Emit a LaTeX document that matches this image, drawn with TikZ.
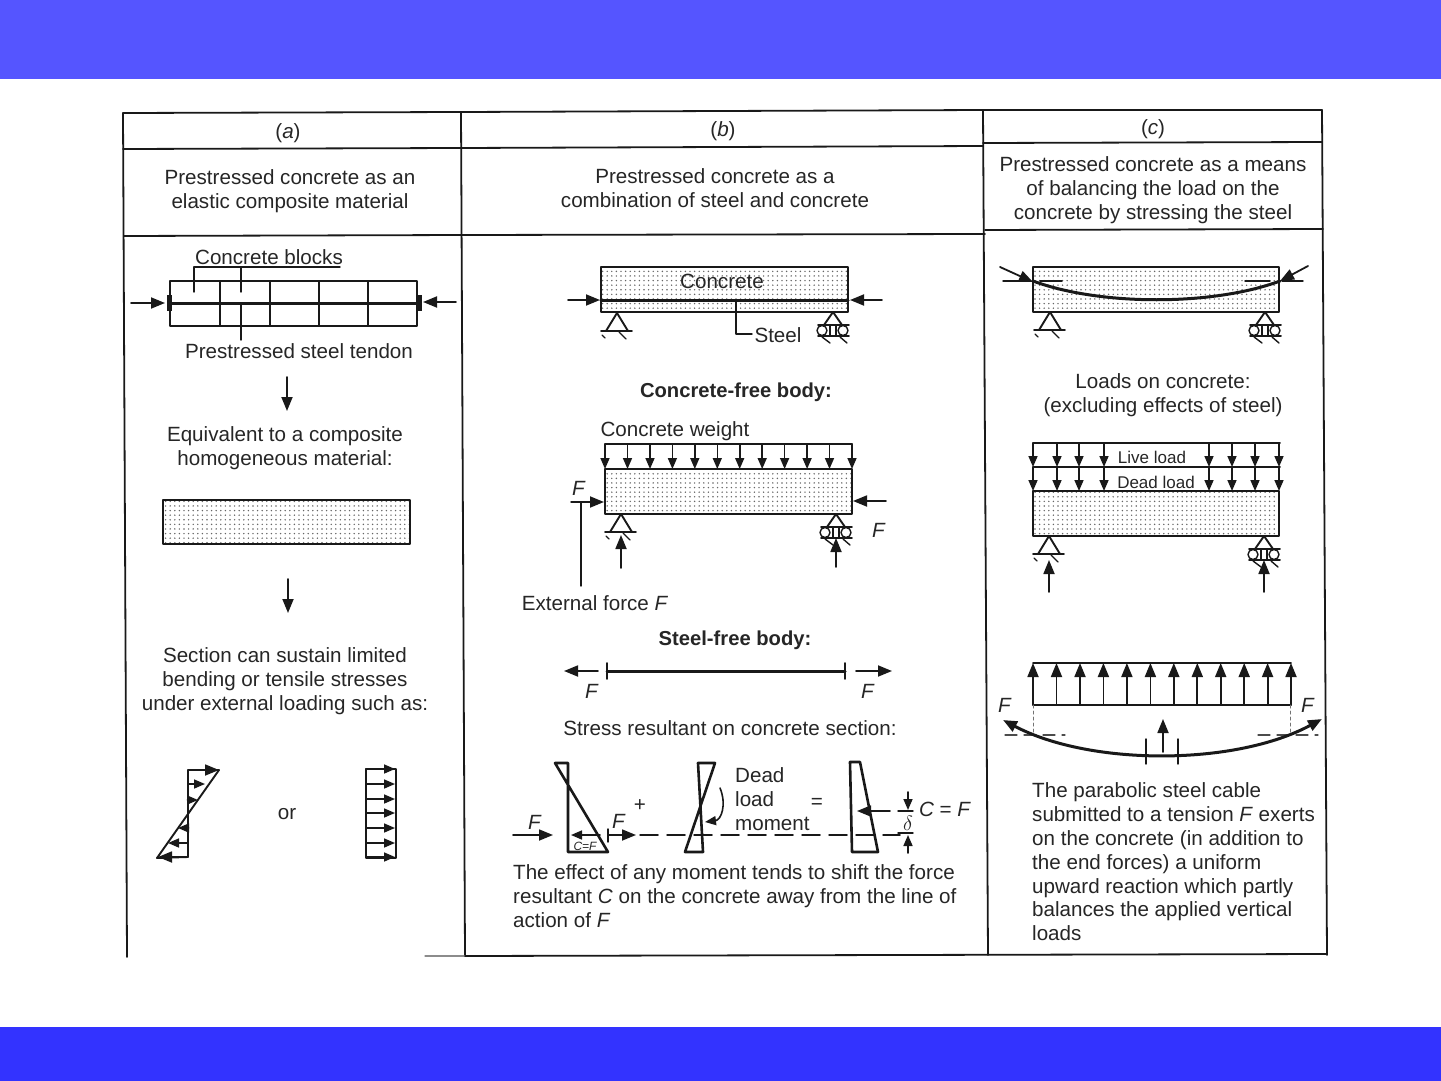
\documentclass[tikz,border=0pt]{standalone}
\usepackage{amsmath}
\usepackage{fontspec}
\setmainfont{Liberation Sans}
\usepackage{tikz}
\usetikzlibrary{arrows.meta}
\usetikzlibrary{patterns}
\definecolor{bannertop}{RGB}{85,85,255}
\definecolor{bannerbot}{RGB}{51,51,255}
\definecolor{inkline}{RGB}{25,25,25}
\pgfdeclarepatternformonly{stipple}{\pgfqpoint{-1pt}{-1pt}}{\pgfqpoint{1pt}{1pt}}{\pgfqpoint{4.6pt}{4.6pt}}{\pgfpathcircle{\pgfpointorigin}{0.8pt}\pgfusepath{fill}}
\tikzset{
lbl/.style={inner sep=0pt,text=black!85,font=\fontsize{20.6}{23.8}\selectfont,align=center},
lblbold/.style={lbl,font=\bfseries\fontsize{20.2}{23.8}\selectfont},
lblleft/.style={lbl,align=left,anchor=west},
lblsmall/.style={inner sep=0pt,text=black!85,font=\fontsize{17}{20}\selectfont},
tableline/.style={line width=1.8pt,draw=inkline},
boxline/.style={line width=1.9pt,draw=inkline},
concrete/.style={line width=1.9pt,draw=inkline,pattern=stipple,pattern color=black!60},
force/.style={line width=1.8pt,draw=inkline,-{Triangle[length=14pt,width=11pt]}},
smallforce/.style={line width=1.6pt,draw=inkline,-{Triangle[length=11pt,width=9pt]}},
heavy/.style={line width=3pt,draw=inkline},
thinline/.style={line width=1.4pt,draw=inkline},
stressline/.style={line width=2.6pt,draw=inkline},
axisdash/.style={line width=1.5pt,draw=inkline,dash pattern=on 18pt off 9pt}
}
\newcommand{\pinsup}[2]{
\draw [boxline] (#1,#2) -- (#1-11,#2+18) -- (#1+11,#2+18) -- cycle;
\draw [boxline] (#1-16,#2+18) -- (#1+15,#2+18);
\draw [thinline] (#1-15,#2+22) -- (#1-12,#2+25);
\draw [thinline] (#1+2,#2+19) -- (#1+9,#2+26);
}
\newcommand{\rollsup}[2]{
\draw [boxline] (#1,#2) -- (#1-9,#2+13) -- (#1+9,#2+13) -- cycle;
\draw [boxline] (#1-15,#2+13) -- (#1+16,#2+13);
\draw [boxline] (#1-15,#2+24) -- (#1+16,#2+24);
\draw [thinline] (#1-11,#2+18.5) circle (5);
\draw [thinline] (#1+10,#2+18.5) circle (5);
\draw [thinline] (#1-3,#2+13) -- (#1-3,#2+24);
\draw [thinline] (#1+3,#2+13) -- (#1+3,#2+24);
\draw [thinline] (#1-11,#2+25) -- (#1-3,#2+31);
\draw [thinline] (#1+7,#2+25) -- (#1+14,#2+31);
}
\begin{document}
\begin{tikzpicture}[line cap=round,line join=round,x=1pt,y=-1pt]
\useasboundingbox (0,0) rectangle (1441,1081);
\fill [white] (0,0) rectangle (1441,1081);
\fill [bannertop] (0,0) rectangle (1441,79);
\fill [bannerbot] (0,1027) rectangle (1441,1081);
% table
\draw [tableline] (123,113) -- (461,112) -- (983,110) -- (1322,110);
\draw [tableline] (123,149) -- (461,148) -- (983,146);
\draw [tableline] (983,143) -- (1322,142);
\draw [tableline] (124,236) -- (463,235) -- (985,234);
\draw [tableline] (985,230) -- (1323,229);
\draw [tableline] (123,113) -- (127,957);
\draw [tableline] (461,112) -- (465,956);
\draw [tableline] (983,110) -- (988,955);
\draw [tableline] (1322,110) -- (1327,955);
\draw [line width=1.2pt,draw=black!45] (425,956) -- (465,956);
\draw [tableline] (465,956) -- (1327,954);
\node [lbl] (heada) at (288,133) {(\textit{a})};
\node [lbl] (headb) at (723,131) {(\textit{b})};
\node [lbl] (headc) at (1153,129) {(\textit{c})};
\node [lbl] (titlea) at (290,191) {Prestressed concrete as an\\elastic composite material};
\node [lbl] (titleb) at (715,188) {Prestressed concrete as a\\combination of steel and concrete};
\node [lbl] (titlec) at (1153,190) {Prestressed concrete as a means\\of balancing the load on the\\concrete by stressing the steel};
% column a
\draw [boxline] (170,281) rectangle (417,326);
\foreach \xb in {220,270,319,368}
\draw [boxline] (\xb,281) -- (\xb,326);
\draw [heavy] (169,303) -- (417,303);
\draw [line width=5pt,draw=inkline,line cap=butt] (169,295) -- (169,311);
\draw [line width=5pt,draw=inkline,line cap=butt] (419,295) -- (419,311);
\draw [force] (131,303) -- (165,303);
\draw [force] (456,302) -- (423,302);
\node [lbl] (blockstext) at (269,257) {Concrete blocks};
\draw [thinline] (194,292) -- (194,267) -- (340,267);
\draw [thinline] (241,267) -- (241,292);
\draw [thinline] (241,303) -- (241,340);
\node [lbl] (tendontext) at (299,351) {Prestressed steel tendon};
\draw [force] (287,377) -- (287,411);
\node [lbl] (equivtext) at (285,448) {Equivalent to a composite\\homogeneous material:};
\draw [concrete] (163,500) rectangle (410,544);
\draw [force] (288,579) -- (288,613);
\node [lbl] (sectiontext) at (285,681) {Section can sustain limited\\bending or tensile stresses\\under external loading such as:};
\draw [boxline] (219,770) -- (188,770) -- (188,857) -- (157,858) -- cycle;
\draw [force] (188,770) -- (219,770);
\draw [smallforce] (188,784) -- (205,784);
\draw [smallforce] (188,800) -- (198,800);
\draw [smallforce] (188,828) -- (178,828);
\draw [smallforce] (188,843) -- (168,843);
\draw [force] (188,857) -- (158,857);
\node [lbl] (ortext) at (287,814) {or};
\draw [boxline] (366,769) rectangle (396,858);
\foreach \ys in {769,784,799,813,828,843,857}
\draw [smallforce] (366,\ys) -- (395,\ys);
% column b
\draw [concrete] (601,267) rectangle (848,312);
\draw [heavy] (601,300) -- (848,300);
\draw [force] (568,300) -- (600,300);
\draw [force] (882,300) -- (850,300);
\node [lbl] (concretetext) at (722,281) {Concrete};
\draw [thinline] (736,300) -- (736,334) -- (752,334);
\node [lbl] (steeltext) at (778,335) {Steel};
\pinsup{617}{313}
\rollsup{833}{312}
\node [lblbold] (concfree) at (736,392) {Concrete-free body:};
\node [lbl] (weighttext) at (675,431) {Concrete weight};
\draw [boxline] (605,444) -- (852,444);
\foreach \xa in {605,627.5,650,672.4,694.8,717.3,739.7,762.2,784.6,807.1,829.5,852}
\draw [smallforce] (\xa,444) -- (\xa,469);
\draw [concrete] (605,469) rectangle (852,514);
\node [lbl] (fleft) at (579,488) {\textit{F}};
\draw [thinline] (571,502) -- (581,502);
\draw [force] (581,502) -- (604,502);
\draw [thinline] (581,502) -- (581,586);
\draw [force] (886,501) -- (853,501);
\node [lbl] (fright) at (879,530) {\textit{F}};
\pinsup{621}{514}
\rollsup{836}{514}
\draw [force] (621,568) -- (621,535);
\draw [force] (836,567) -- (836,538);
\node [lbl] (externaltext) at (595,603) {External force \textit{F}};
\node [lblbold] (steelfree) at (735,640) {Steel-free body:};
\draw [heavy] (607,671) -- (845,671);
\draw [boxline] (607,663) -- (607,679);
\draw [boxline] (845,663) -- (845,679);
\draw [force] (598,671) -- (564,671);
\draw [force] (856,671) -- (892,671);
\node [lbl] (fsteela) at (592,691) {\textit{F}};
\node [lbl] (fsteelb) at (868,691) {\textit{F}};
\node [lbl] (resultanttext) at (730,728) {Stress resultant on concrete section:};
\draw [stressline] (568,763) -- (555,763) -- (608,852) -- (568,852) -- cycle;
\draw [force] (513,835) -- (553,835);
\node [lbl] (fstressa) at (535,822) {\textit{F}};
\draw [smallforce] (600,835) -- (571,835);
\node [inner sep=0pt,font=\fontsize{12}{14}\selectfont\itshape,text=black!85] (cftext) at (585,846) {C=F};
\draw [thinline] (608,829) -- (608,842);
\draw [force] (608,835) -- (636,835);
\node [lbl] (fstressb) at (619,821) {\textit{F}};
\node [lbl] (plustext) at (640,806) {+};
\draw [axisdash] (640,835) -- (900,835);
\draw [stressline] (698,763) -- (715,763) -- (685,852) -- (703,852) -- cycle;
\draw [smallforce] (720,788) .. controls (727,805) and (721,820) .. (705,822);
\node [lblleft] (deadtext) at (735,799) {Dead\\load\\moment};
\node [lbl] (equalstext) at (817,803) {=};
\draw [stressline] (850,762) -- (860,762) -- (878,852) -- (852,852) -- cycle;
\draw [force] (890,811) -- (857,811);
\draw [thinline] (898,811) -- (913,811);
\draw [thinline] (898,833) -- (913,833);
\draw [smallforce] (908,792) -- (908,810);
\draw [smallforce] (908,853) -- (908,835);
\node [lbl] (deltatext) at (908,823) {$\delta$};
\node [lbl] (cfform) at (945,809) {\textit{C} = \textit{F}};
\node [lblleft] (effecttext) at (513,896) {The effect of any moment tends to shift the force\\resultant \textit{C} on the concrete away from the line of\\action of \textit{F}};
% column c
\draw [concrete] (1033,267) rectangle (1279,312);
\draw [heavy] (1033,281) .. controls (1100,306) and (1213,306) .. (1280,281);
\draw [force] (1000,267) -- (1033,282);
\draw [force] (1308,266) -- (1280,281);
\draw [thinline] (1003,281) -- (1030,281);
\draw [thinline] (1040,281) -- (1062,281);
\draw [thinline] (1245,281) -- (1270,281);
\draw [thinline] (1282,281) -- (1303,281);
\pinsup{1050}{312}
\rollsup{1265}{312}
\node [lbl] (loadstext) at (1163,395) {Loads on concrete:\\(excluding effects of steel)};
\draw [boxline] (1033,443) -- (1280,443);
\draw [boxline] (1033,467) -- (1280,467);
\foreach \xl in {1033,1057,1079,1104,1209,1232,1255,1279} {
\draw [smallforce] (\xl,443) -- (\xl,467);
\draw [smallforce] (\xl,467) -- (\xl,491);
}
\node [lblsmall] (livetext) at (1152,457) {Live load};
\node [lblsmall] (deadloadtext) at (1156,482) {Dead load};
\draw [concrete] (1033,491) rectangle (1279,536);
\pinsup{1049}{536}
\rollsup{1264}{536}
\draw [force] (1049,592) -- (1049,560);
\draw [force] (1264,592) -- (1264,560);
\draw [boxline] (1033,663) -- (1291,663);
\draw [boxline] (1033,705) -- (1291,705);
\foreach \xu in {1033,1056.5,1080,1103.4,1126.9,1150.4,1173.8,1197.3,1220.7,1244.2,1267.6,1291}
\draw [force] (\xu,705) -- (\xu,663);
\draw [line width=1pt,draw=black!55,dashed] (1033,705) -- (1033,735);
\draw [line width=1pt,draw=black!55,dashed] (1290,705) -- (1290,735);
\draw [line width=1.2pt,draw=black!70,dash pattern=on 12pt off 7pt] (1005,735) -- (1065,735);
\draw [line width=1.2pt,draw=black!70,dash pattern=on 12pt off 7pt] (1258,735) -- (1318,735);
\draw [heavy,{Triangle[length=14pt,width=11pt]}-{Triangle[length=14pt,width=11pt]}] (1003,720) .. controls (1090,766) and (1235,766) .. (1322,719);
\draw [thinline] (1146,739) -- (1146,764);
\draw [thinline] (1178,739) -- (1178,764);
\draw [force] (1163,752) -- (1163,719);
\node [lbl] (fcablea) at (1005,705) {\textit{F}};
\node [lbl] (fcableb) at (1308,705) {\textit{F}};
\node [lblleft] (cabletext) at (1032,862) {The parabolic steel cable\\submitted to a tension \textit{F} exerts\\on the concrete (in addition to\\the end forces) a uniform\\upward reaction which partly\\balances the applied vertical\\loads};
\end{tikzpicture}
\end{document}
